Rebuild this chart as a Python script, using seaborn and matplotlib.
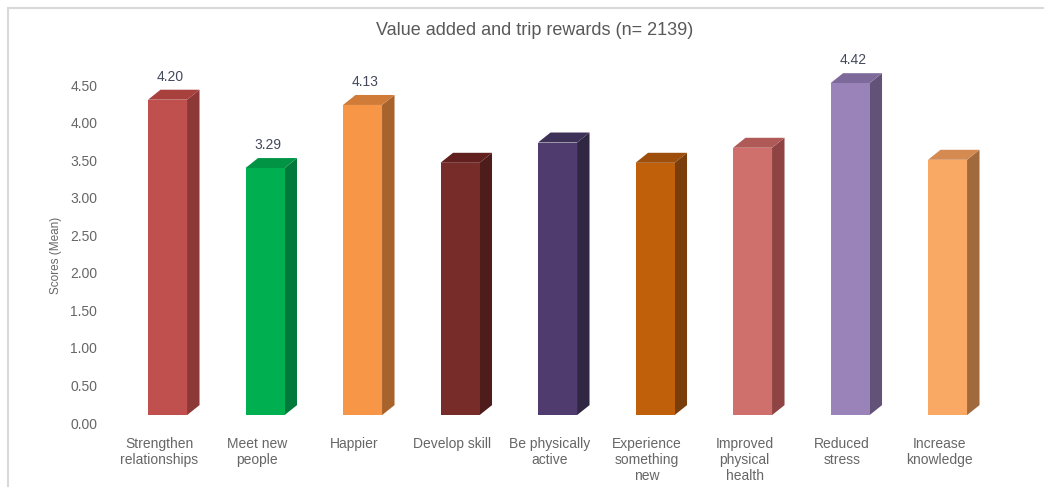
import matplotlib
matplotlib.use("Agg")
import matplotlib.pyplot as plt
import matplotlib.transforms as mtransforms
from matplotlib.patches import Polygon, Rectangle
import seaborn as sns
import pandas as pd

# ---- data ----
categories = [
    "Strengthen\nrelationships", "Meet new\npeople", "Happier", "Develop skill",
    "Be physically\nactive", "Experience\nsomething\nnew", "Improved\nphysical\nhealth",
    "Reduced\nstress", "Increase\nknowledge",
]
values = [4.20, 3.29, 4.13, 3.36, 3.63, 3.36, 3.56, 4.42, 3.40]
shown_labels = ["4.20", "3.29", "4.13", "", "", "", "", "4.42", ""]
front_colors = ["#C0504D", "#00B050", "#F79646", "#772C2A", "#4F3B6D",
                "#C0600A", "#D0706D", "#9983B8", "#FAA964"]
side_colors = ["#8C3836", "#007A3A", "#A8632C", "#4E1C1B", "#302842",
               "#7A3E0C", "#8F4443", "#625277", "#A06A3C"]
top_colors = ["#A8403E", "#009444", "#D07B38", "#611F1E", "#3E3157",
              "#9C4E0A", "#B05A58", "#7E6A9A", "#D48A50"]
yticks = [0.0, 0.5, 1.0, 1.5, 2.0, 2.5, 3.0, 3.5, 4.0, 4.5]
title = "Value added and trip rewards (n= 2139)"
ylabel = "Scores (Mean)"

df = pd.DataFrame({"category": categories, "score": values})

sns.set_theme(style="white")
plt.rcParams["font.family"] = ["Liberation Sans", "DejaVu Sans"]

fig = plt.figure(figsize=(10.44, 4.87), dpi=100)
ax = fig.add_axes([0.0951, 0.1314, 0.8592, 0.7325])

sns.barplot(data=df, x="category", y="score", hue="category",
            palette=front_colors, saturation=1, width=0.40,
            legend=False, ax=ax, linewidth=0)

# 3D style
lift = 0.105      # front face offset (data units)
dx = 0.128        # depth in category units
dy = 0.133        # depth in data units
patches = sorted(ax.patches, key=lambda p: p.get_x())
for i, p in enumerate(patches):
    x0, w, h = p.get_x(), p.get_width(), p.get_height()
    p.set_y(lift)
    p.set_zorder(3)
    side = Polygon([(x0 + w, lift), (x0 + w + dx, lift + dy),
                    (x0 + w + dx, h + lift + dy), (x0 + w, h + lift)],
                   closed=True, facecolor=side_colors[i], edgecolor="none", zorder=2)
    top = Polygon([(x0, h + lift), (x0 + dx, h + lift + dy),
                   (x0 + w + dx, h + lift + dy), (x0 + w, h + lift)],
                  closed=True, facecolor=top_colors[i], edgecolor="none", zorder=2)
    ax.add_patch(side)
    ax.add_patch(top)
    if shown_labels[i]:
        ax.text(x0 + w / 2 + 0.03, h + lift + dy + 0.08, shown_labels[i],
                ha="center", va="bottom", fontsize=10, color="#44495C")

ax.set_xlim(-0.7, 8.5)
ax.set_ylim(0, 4.75)
ax.set_yticks(yticks)
ax.set_yticklabels([f"{t:.2f}" for t in yticks])
ax.set_xlabel("")
ax.set_ylabel(ylabel, fontsize=8.5, color="#666666")
ax.yaxis.set_label_coords(-0.0415, 0.47)
ax.tick_params(axis="y", length=0, pad=1.5, labelsize=10, labelcolor="#666666")
ax.tick_params(axis="x", length=0, pad=10, labelsize=10, labelcolor="#666666")
offset = mtransforms.ScaledTranslation(-8 / 100, 0, fig.dpi_scale_trans)
for lab in ax.get_xticklabels():
    lab.set_transform(lab.get_transform() + offset)
    lab.set_linespacing(1.2)
for s in ax.spines.values():
    s.set_visible(False)
ax.grid(False)

fig.text(0.512, 0.938, title, ha="center", va="center", fontsize=13, color="#595959")

frame = Rectangle((8 / 1044, -0.05), 1.2, 479 / 487 + 0.05, transform=fig.transFigure,
                  facecolor="none", edgecolor="#D9D9D9", linewidth=1.5, zorder=0)
fig.patches.append(frame)

fig.savefig("out.png", dpi=100)
